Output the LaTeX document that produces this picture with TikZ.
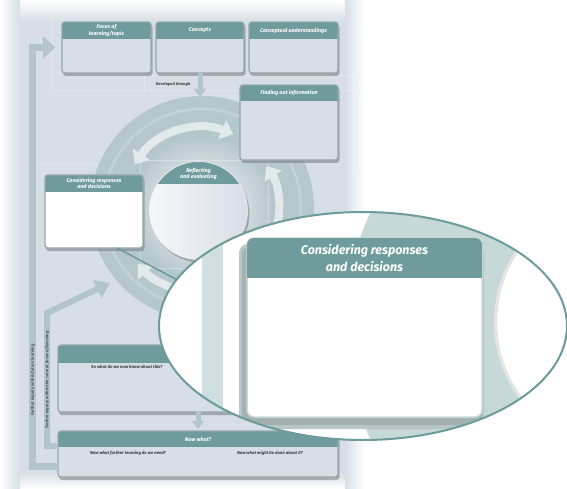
\documentclass[tikz,border=0pt]{standalone}
\usepackage{fontspec}
\setmainfont{Fira Sans}
\usetikzlibrary{arrows.meta,shapes.geometric}

\definecolor{pagebg}{HTML}{D8DEE6}
\definecolor{ringgrey}{HTML}{B4C7CC}
\definecolor{headteal}{HTML}{6F9B9D}
\definecolor{boxline}{HTML}{92A8AC}
\definecolor{loopgrey}{HTML}{B1C5CA}
\definecolor{arrowwhite}{HTML}{E2E9EB}
\definecolor{zoomteal}{HTML}{6B9B9B}
\definecolor{zoomring}{HTML}{C7D8D8}
\definecolor{inktext}{HTML}{33403F}

%% positions, in pixels of the reference
\newcommand{\ringx}{202}
\newcommand{\ringy}{208}
\newcommand{\ringouter}{112}
\newcommand{\zoomx}{363}
\newcommand{\zoomy}{326}
\newcommand{\zoomrx}{204}
\newcommand{\zoomry}{114}

%% box with a teal header: name, left, top, right, bottom, header height, body colour, title
\newcommand{\headbox}[8]{%
  \fill[boxshadow] (#2+1,#3+2.5) rectangle (#4+1.5,#5+3);
  \node[boxbody, fill=#7, minimum width=#4-#2, minimum height=#5-#3] (#1) at ({(#2+#4)/2},{(#3+#5)/2}) {};
  \begin{scope}
    \clip[rounded corners=3pt] (#2,#3) rectangle (#4,#5);
    \fill[headteal] (#2,#3) rectangle (#4,#3+#6);
  \end{scope}
  \draw[boxedge] (#1.north west) rectangle (#1.south east);
  \node[headtext] (#1title) at ({(#2+#4)/2},{#3+#6/2}) {#8};
}

\begin{document}
\begin{tikzpicture}[x=1pt,y=-1pt]
\tikzstyle{boxbody}=[rounded corners=3pt,outer sep=0pt,inner sep=0pt]
\tikzstyle{boxedge}=[draw=boxline,line width=1.2pt,rounded corners=3pt]
\tikzstyle{boxshadow}=[fill=black!45!pagebg,opacity=0.55,rounded corners=3pt]
\tikzstyle{headtext}=[text=white,align=center,font=\fontsize{5.4}{6.2}\selectfont\bfseries\itshape,inner sep=0pt]
\tikzstyle{subtext}=[text=inktext,font=\fontsize{4.3}{5}\selectfont\bfseries\itshape,inner sep=0pt]
\tikzstyle{sidetext}=[text=inktext!80!loopgrey,font=\fontsize{4.3}{5}\selectfont\bfseries\itshape,inner sep=0pt,rotate=90]
\tikzstyle{looparrow}=[draw=loopgrey,line width=7pt,-{Triangle[width=22pt,length=12pt]}]
\tikzstyle{innerloop}=[draw=loopgrey,line width=6pt,-{Triangle[width=19pt,length=14pt]}]
\tikzstyle{devarrow}=[draw=loopgrey,line width=5pt,-{Triangle[width=12pt,length=8pt]}]
\tikzstyle{ringarrow}=[draw=arrowwhite,line width=8pt]
\tikzstyle{gridline}=[draw=white,opacity=0.3,line width=0.6pt]

\useasboundingbox (0,0) rectangle (567,489);

%% page
\fill[white] (0,0) rectangle (567,489);
\fill[pagebg] (0,0) rectangle (365,489);
\shade[top color=white,bottom color=pagebg] (0,0) rectangle (365,22);
\shade[top color=pagebg,bottom color=white] (0,472) rectangle (365,489);
\shade[left color=white,right color=pagebg] (0,0) rectangle (20,489);
\shade[left color=pagebg,right color=white] (345,0) rectangle (365,489);
\draw[gridline] (52,10) -- (52,90) -- (240,90);
\draw[gridline] (144,90) -- (144,75) -- (353,75) -- (353,175);
\draw[gridline] (338,90) -- (353,90);
\draw[gridline] (20,163) -- (160,163);

%% ring
\fill[ringgrey] (\ringx,\ringy) circle [radius=\ringouter];
\foreach \r in {70,66,...,50}
  \fill[white,opacity=0.07] (\ringx,\ringy) circle [radius=\r];
\draw[white,opacity=0.18,line width=3pt] (\ringx,\ringy) circle [radius=99];
\draw[gridline] (140,160) rectangle (268,268);
\draw[ringarrow,{Triangle[width=20pt,length=12pt]}-{Triangle[width=20pt,length=12pt]}]
  ([shift={(\ringx,\ringy)}]-147:80) arc[start angle=-147,end angle=-67,radius=80];
\draw[ringarrow,-{Triangle[width=20pt,length=12pt]}]
  ([shift={(\ringx,\ringy)}]19:77) arc[start angle=19,end angle=-33,radius=77];
\draw[ringarrow,-{Triangle[width=20pt,length=12pt]}]
  ([shift={(\ringx,\ringy)}]100:85) arc[start angle=100,end angle=139,radius=85];

%% reflecting and evaluating
\fill[black!45!pagebg,opacity=0.5] (200.5,213.5) circle [radius=49];
\node[circle,minimum size=98,inner sep=0pt,outer sep=0pt,left color=white!75!pagebg,right color=pagebg] (reflect) at (198.5,210.5) {};
\begin{scope}
  \clip (reflect.center) circle [radius=49];
  \fill[headteal] (140,150) rectangle (260,184);
\end{scope}
\draw[white!60!pagebg,line width=0.6pt] (reflect.center) circle [radius=49];
\node[headtext] (reflecttitle) at (198.5,174) {Reflecting\\and evaluating};

%% planner boxes
\headbox{focus}{62}{22}{151}{73}{17}{pagebg}{Focus of\\learning/topic}
\headbox{concepts}{156}{22}{244}{73}{17}{pagebg}{Concepts}
\headbox{understand}{249}{22}{338}{73}{17}{pagebg}{Conceptual understandings}
\headbox{finding}{240}{85}{338}{160}{16}{pagebg}{Finding out information}
\headbox{considering}{45}{175}{143}{248}{17}{white}{Considering responses\\and decisions}
\headbox{sowhat}{58}{345}{338}{412}{18}{pagebg}{}
\headbox{nowwhat}{58}{431}{338}{477}{16}{pagebg}{Now what?}

\node[subtext,anchor=west] (sowhatq) at (91,367) {So what do we now know about this?};
\node[subtext] (nowlearn) at (128,453) {Now what further learning do we need?};
\node[subtext] (nowdo) at (270,453) {Now what might be done about it?};

%% loops back to the start
\draw[looparrow,shorten >=7pt] ([yshift=-12pt]nowwhat.west) -- ++(-25.5,0) |- (focus.west);
\coordinate (innertip) at (110,283);
\draw[innerloop] ([yshift=8pt]nowwhat.west) -- ++(-11,0) -- ++(0,-133) -- (innertip);
\node[sidetext] (futurenote) at (32.5,380) {Further inquiry within future learning};
\node[sidetext] (currentnote) at (47,380) {Further inquiry within the current focus of learning};

%% developed through
\coordinate (devtip) at (200,97);
\draw[devarrow] (concepts.south) -- (devtip);
\node[subtext,font=\fontsize{4}{5}\selectfont\bfseries\itshape] (devnote) at (173,84) {Developed through};
\draw[devarrow,shorten >=2pt] (sowhat.south) -- (nowwhat.north);

%% magnified view
\node[ellipse,minimum width=2*\zoomrx,minimum height=2*\zoomry,inner sep=0pt] (zoomview) at (\zoomx,\zoomy) {};
\draw[zoomteal,line width=1.5pt] ([xshift=23pt]considering.south) -- (zoomview.166);
\begin{scope}
  \clip (\zoomx,\zoomy) ellipse [x radius=\zoomrx,y radius=\zoomry];
  \fill[white] (\zoomx,\zoomy) ellipse [x radius=\zoomrx,y radius=\zoomry];
  \fill[zoomring!85!white] (202,200) rectangle (223,450);
  \fill[zoomring] (610,326) circle [radius=265];
  \fill[white] (623,322) circle [radius=126];
  \draw[black!10,line width=3pt] (623,322) circle [radius=127.5];
  \fill[black!8!zoomring,rounded corners=9pt] (239,244) rectangle (484,429);
  \fill[black!18!zoomring,rounded corners=8pt] (242,247) rectangle (482,425);
  \node[rounded corners=7pt,fill=white,draw=zoomring,line width=1.5pt,minimum width=235,minimum height=179,inner sep=0pt,outer sep=0pt] (bigbox) at (364.5,327.5) {};
  \begin{scope}
    \clip[rounded corners=7pt] (247,238) rectangle (482,417);
    \fill[headteal] (247,238) rectangle (482,278);
  \end{scope}
  \node[headtext,font=\fontsize{12.5}{17}\selectfont\bfseries\itshape] (bigtitle) at (364.5,258) {Considering responses\\and decisions};
\end{scope}
\draw[zoomteal,line width=2pt] (zoomview.center) ellipse [x radius=\zoomrx,y radius=\zoomry];

\end{tikzpicture}
\end{document}
